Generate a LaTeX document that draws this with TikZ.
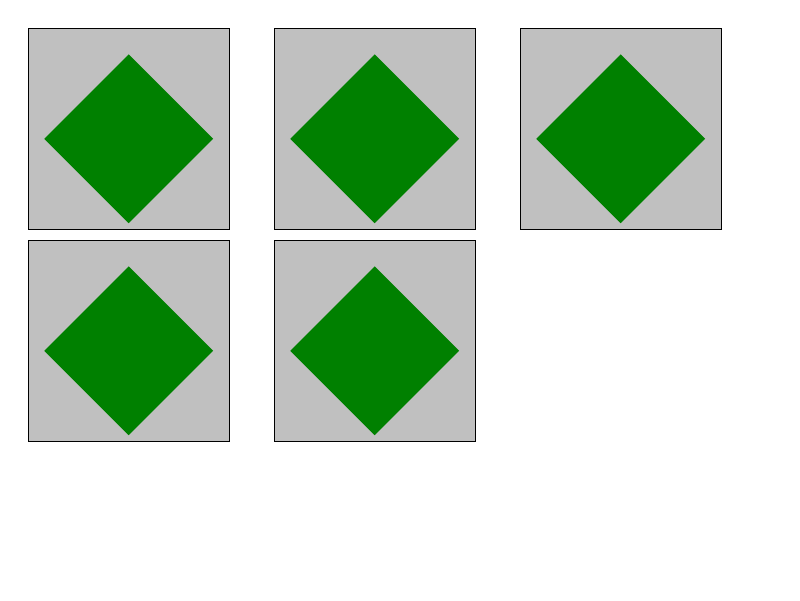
\documentclass[tikz,border=0pt]{standalone}
\usetikzlibrary{shapes.geometric}
\definecolor{silverbg}{HTML}{C0C0C0}
\definecolor{darkgreen}{HTML}{008000}
\begin{document}
\begin{tikzpicture}[x=1pt,y=-1pt,
  panel/.style={draw=black,line width=1pt,fill=silverbg,rectangle,inner sep=0pt,minimum width=201pt,minimum height=201pt},
  gem/.style={diamond,fill=darkgreen,draw=none,inner sep=0pt,minimum width=169pt,minimum height=169pt,shape aspect=1}]
\useasboundingbox[fill=white] (0,0) rectangle (800,600);
\foreach \n/\x/\y in {a/129/129, b/375/129, c/621/129, d/129/341, e/375/341}{
  \node[panel] (box\n) at (\x,\y) {};
  \node[gem] (dia\n) at (\x-0.3,\y+9.8) {};
}
\end{tikzpicture}
\end{document}
